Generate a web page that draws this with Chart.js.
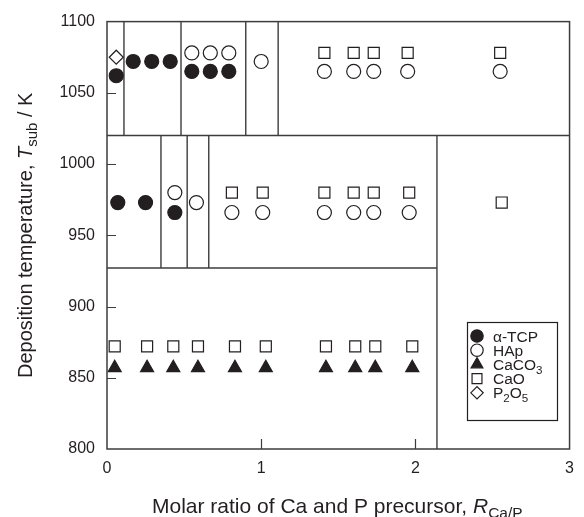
<!DOCTYPE html>
<html>
<head>
<meta charset="utf-8">
<script src="https://cdn.jsdelivr.net/npm/chart.js@4.4.1/dist/chart.umd.min.js"></script>
<style>
  html, body { margin: 0; padding: 0; background: #fff; }
</style>
</head>
<body>
<canvas id="chart" width="584" height="517"></canvas>
<script>
// axis ticks
const xTicks = [0, 1, 2, 3];
const yTicks = [800, 850, 900, 950, 1000, 1050, 1100];

// alpha-TCP (filled circle)
const tcpR = [0.06, 0.17, 0.29, 0.41, 0.55, 0.67, 0.79, 0.07, 0.25, 0.44];
const tcpT = [1062, 1072, 1072, 1072, 1065, 1065, 1065, 973, 973, 966];

// HAp (open circle)
const hapR = [0.55, 0.67, 0.79, 1.00, 1.41, 1.60, 1.73, 1.95, 2.55, 0.44, 0.58, 0.81, 1.01, 1.41, 1.60, 1.73, 1.96];
const hapT = [1078, 1078, 1078, 1072, 1065, 1065, 1065, 1065, 1065, 980, 973, 966, 966, 966, 966, 966, 966];

// CaCO3 (filled triangle)
const caco3R = [0.05, 0.26, 0.43, 0.59, 0.83, 1.03, 1.42, 1.61, 1.74, 1.98];
const caco3T = [857, 857, 857, 857, 857, 857, 857, 857, 857, 857];

// CaO (open square)
const caoR = [1.41, 1.60, 1.73, 1.95, 2.55, 0.81, 1.01, 1.41, 1.60, 1.73, 1.96, 2.56,
              0.05, 0.26, 0.43, 0.59, 0.83, 1.03, 1.42, 1.61, 1.74, 1.98];
const caoT = [1078, 1078, 1078, 1078, 1078, 980, 980, 980, 980, 980, 980, 973,
              872, 872, 872, 872, 872, 872, 872, 872, 872, 872];

// P2O5 (open diamond)
const p2o5R = [0.06];
const p2o5T = [1075];

// phase region boundaries
const upperBoundT = 1020;     // full width
const lowerBoundT = 927;      // from 0 to rightBoundR
const rightBoundR = 2.14;     // from 800 to upperBoundT
const topDividers = [0.11, 0.48, 0.90, 1.11];   // upperBoundT..1100
const midDividers = [0.35, 0.52, 0.66];         // lowerBoundT..upperBoundT

const ink = '#231f20';
const lineCol = '#3c3c3c';
const family = '"Liberation Sans", Arial, Helvetica, sans-serif';

function pts(xs, ys) {
    return xs.map((x, i) => ({ x: x, y: ys[i] }));
}

const series = [
    { label: 'α-TCP', r: tcpR, t: tcpT, style: 'circle', radius: 7, fill: ink, legR: 6.2 },
    { label: 'HAp', r: hapR, t: hapT, style: 'circle', radius: 7, fill: '#fff', legR: 6.2 },
    { label: 'CaCO|3', r: caco3R, t: caco3T, style: 'triangle', radius: 7.5, fill: ink, legR: 6.8 },
    { label: 'CaO', r: caoR, t: caoT, style: 'rect', radius: 7.8, fill: '#fff', legR: 7 },
    { label: 'P|2|O|5', r: p2o5R, t: p2o5T, style: 'rectRot', radius: 7, fill: '#fff', legR: 6.2 }
];

// boundary segments
const segments = [];
segments.push([[0, upperBoundT], [3, upperBoundT]]);
segments.push([[0, lowerBoundT], [rightBoundR, lowerBoundT]]);
segments.push([[rightBoundR, 800], [rightBoundR, upperBoundT]]);
topDividers.forEach(r => segments.push([[r, upperBoundT], [r, 1100]]));
midDividers.forEach(r => segments.push([[r, lowerBoundT], [r, upperBoundT]]));

const datasets = [];
series.forEach(s => {
    datasets.push({
        label: s.label,
        data: pts(s.r, s.t),
        pointStyle: s.style,
        pointRadius: s.radius,
        pointHoverRadius: s.radius,
        pointBackgroundColor: s.fill,
        pointBorderColor: ink,
        pointBorderWidth: 1.2,
        showLine: false,
        clip: false,
        order: 1
    });
});
segments.forEach(seg => {
    datasets.push({
        data: seg.map(p => ({ x: p[0], y: p[1] })),
        showLine: true,
        borderColor: lineCol,
        borderWidth: 1.4,
        pointRadius: 0,
        pointHoverRadius: 0,
        fill: false,
        order: 10
    });
});

// draws text pieces: {t, size, italic, dy}
function drawRich(ctx, parts, x, y) {
    let cx = x;
    parts.forEach(p => {
        ctx.font = (p.italic ? 'italic ' : '') + p.size + 'px ' + family;
        ctx.fillText(p.t, cx, y + (p.dy || 0));
        cx += ctx.measureText(p.t).width;
    });
}

// "CaCO|3" -> alternating normal / subscript pieces
function labelParts(label, size) {
    return label.split('|').map((t, i) => i % 2 === 0
        ? { t: t, size: size }
        : { t: t, size: size * 0.75, dy: 4 });
}

const decorPlugin = {
    id: 'decor',
    afterDraw(chart) {
        const ctx = chart.ctx;
        const a = chart.chartArea;
        const xs = chart.scales.x;
        const ys = chart.scales.y;
        ctx.save();

        // frame
        ctx.strokeStyle = lineCol;
        ctx.lineWidth = 1.5;
        ctx.strokeRect(a.left, a.top, a.right - a.left, a.bottom - a.top);

        // inward ticks
        ctx.beginPath();
        yTicks.slice(1, -1).forEach(v => {
            const py = Math.round(ys.getPixelForValue(v)) + 0.5;
            ctx.moveTo(a.left, py);
            ctx.lineTo(a.left + 9, py);
        });
        xTicks.slice(1, -1).forEach(v => {
            const px = Math.round(xs.getPixelForValue(v)) + 0.5;
            ctx.moveTo(px, a.bottom);
            ctx.lineTo(px, a.bottom - 10);
        });
        ctx.lineWidth = 1.2;
        ctx.stroke();

        // axis titles
        ctx.fillStyle = ink;
        ctx.textBaseline = 'alphabetic';
        ctx.textAlign = 'left';
        drawRich(ctx, [
            { t: 'Molar ratio of Ca and P precursor, ', size: 21 },
            { t: 'R', size: 21, italic: true },
            { t: 'Ca/P', size: 15.5, dy: 5 }
        ], 152, 513);

        ctx.save();
        ctx.translate(32, 378);
        ctx.rotate(-Math.PI / 2);
        drawRich(ctx, [
            { t: 'Deposition temperature, ', size: 20 },
            { t: 'T', size: 20, italic: true },
            { t: 'sub', size: 15, dy: 5 },
            { t: ' / K', size: 20 }
        ], 0, 0);
        ctx.restore();

        // legend
        const lx = 467.5, ly = 322.5, lw = 90, lh = 98;
        ctx.fillStyle = '#fff';
        ctx.fillRect(lx, ly, lw, lh);
        ctx.strokeStyle = ink;
        ctx.lineWidth = 1.2;
        ctx.strokeRect(lx, ly, lw, lh);
        series.forEach((s, i) => {
            const cy = 336 + i * 14.2;
            ctx.fillStyle = s.fill;
            ctx.strokeStyle = ink;
            ctx.lineWidth = 1.2;
            Chart.helpers.drawPoint(ctx, { pointStyle: s.style, radius: s.legR, rotation: 0, borderWidth: 1.2 }, 477, cy);
            ctx.fillStyle = ink;
            drawRich(ctx, labelParts(s.label, 15.5), 493, cy + 5.5);
        });

        ctx.restore();
    }
};

const tickFont = { family: family, size: 16 };

new Chart(document.getElementById('chart'), {
    type: 'scatter',
    data: { datasets: datasets },
    options: {
        responsive: false,
        animation: false,
        layout: { padding: { top: 19.5, right: 11, bottom: 0, left: 0 } },
        plugins: {
            legend: { display: false },
            tooltip: { enabled: false }
        },
        scales: {
            x: {
                type: 'linear',
                min: 0,
                max: 3,
                afterBuildTicks: s => { s.ticks = xTicks.map(v => ({ value: v })); },
                afterFit: s => { s.height = 68; },
                grid: { display: false, drawTicks: false },
                border: { display: false },
                ticks: { padding: 10, color: ink, font: tickFont, maxRotation: 0, autoSkip: false, callback: v => String(v) }
            },
            y: {
                type: 'linear',
                min: 800,
                max: 1100,
                afterBuildTicks: s => { s.ticks = yTicks.map(v => ({ value: v })); },
                afterFit: s => { s.width = 107; },
                grid: { display: false, drawTicks: false },
                border: { display: false },
                ticks: { padding: 12, color: ink, font: tickFont, autoSkip: false, callback: v => String(v) }
            }
        }
    },
    plugins: [decorPlugin]
});
</script>
</body>
</html>
